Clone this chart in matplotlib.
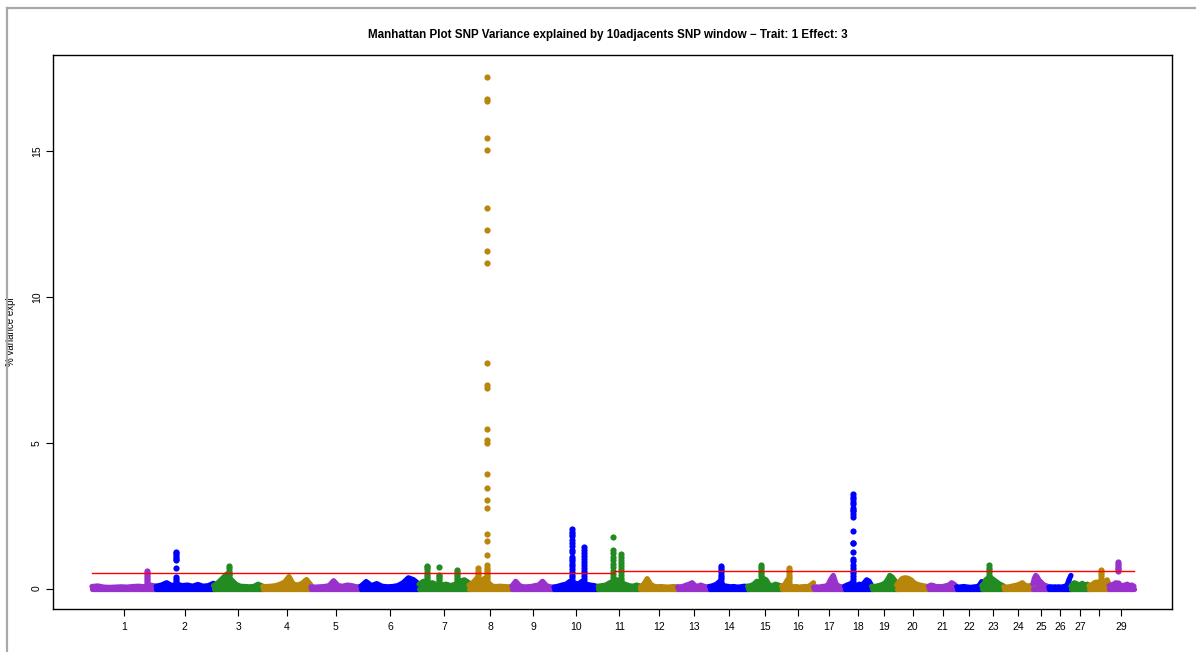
""" Manhattan plot of SNP variance explained by 10 adjacent SNP windows."""
import numpy as np
import matplotlib
matplotlib.use("Agg")
import matplotlib.pyplot as plt
from matplotlib.lines import Line2D

plt.rcParams['font.family'] = ['Liberation Sans', 'DejaVu Sans']

# chromosome names and lengths (Mb)
chrom_names = [str(i) for i in range(1, 30)]
chrom_len = [157, 140, 120, 118, 122, 142, 122, 105, 103, 108, 103, 91, 78, 93, 83,
             78, 76, 66, 61, 78, 69, 61, 54, 71, 39, 54, 44, 49, 61]
palette = ["#9932CC", "#0000FF", "#228B22", "#B8860B"]

# dense background of windows: upper envelope, 12 evenly spaced samples per chromosome
baseline = [
    [0.07, 0.09, 0.05, 0.04, 0.05, 0.06, 0.05, 0.07, 0.08, 0.06, 0.12, 0.08],
    [0.08, 0.12, 0.20, 0.10, 0.15, 0.10, 0.12, 0.08, 0.14, 0.08, 0.10, 0.18],
    [0.10, 0.20, 0.35, 0.50, 0.30, 0.15, 0.08, 0.07, 0.06, 0.07, 0.15, 0.08],
    [0.07, 0.07, 0.08, 0.10, 0.15, 0.22, 0.41, 0.15, 0.12, 0.18, 0.31, 0.12],
    [0.06, 0.05, 0.06, 0.07, 0.10, 0.27, 0.10, 0.08, 0.12, 0.10, 0.06, 0.07],
    [0.08, 0.24, 0.10, 0.17, 0.08, 0.06, 0.07, 0.10, 0.20, 0.37, 0.30, 0.15],
    [0.15, 0.25, 0.18, 0.20, 0.12, 0.12, 0.15, 0.10, 0.15, 0.25, 0.30, 0.20],
    [0.12, 0.20, 0.35, 0.25, 0.35, 0.20, 0.08, 0.07, 0.08, 0.07, 0.06, 0.07],
    [0.08, 0.25, 0.10, 0.06, 0.06, 0.07, 0.10, 0.12, 0.25, 0.10, 0.06, 0.05],
    [0.05, 0.08, 0.12, 0.15, 0.25, 0.20, 0.15, 0.25, 0.15, 0.12, 0.10, 0.06],
    [0.08, 0.10, 0.12, 0.20, 0.25, 0.30, 0.20, 0.15, 0.10, 0.08, 0.12, 0.08],
    [0.06, 0.15, 0.34, 0.15, 0.08, 0.06, 0.07, 0.06, 0.05, 0.06, 0.07, 0.05],
    [0.06, 0.06, 0.08, 0.12, 0.15, 0.20, 0.10, 0.08, 0.12, 0.08, 0.06, 0.07],
    [0.07, 0.10, 0.15, 0.25, 0.10, 0.08, 0.06, 0.07, 0.05, 0.06, 0.08, 0.07],
    [0.08, 0.10, 0.15, 0.25, 0.20, 0.35, 0.30, 0.12, 0.10, 0.15, 0.12, 0.08],
    [0.08, 0.12, 0.30, 0.10, 0.06, 0.07, 0.05, 0.06, 0.07, 0.06, 0.12, 0.20],
    [0.05, 0.06, 0.05, 0.07, 0.08, 0.10, 0.30, 0.45, 0.15, 0.08, 0.06, 0.05],
    [0.08, 0.12, 0.15, 0.20, 0.12, 0.10, 0.15, 0.12, 0.20, 0.30, 0.25, 0.10],
    [0.08, 0.07, 0.08, 0.10, 0.12, 0.15, 0.20, 0.30, 0.45, 0.40, 0.30, 0.15],
    [0.12, 0.25, 0.35, 0.37, 0.35, 0.30, 0.20, 0.15, 0.12, 0.10, 0.08, 0.06],
    [0.08, 0.12, 0.10, 0.06, 0.07, 0.06, 0.08, 0.10, 0.12, 0.20, 0.15, 0.06],
    [0.06, 0.05, 0.06, 0.07, 0.06, 0.05, 0.04, 0.05, 0.06, 0.06, 0.12, 0.24],
    [0.10, 0.15, 0.30, 0.35, 0.40, 0.35, 0.30, 0.25, 0.20, 0.15, 0.12, 0.08],
    [0.06, 0.05, 0.06, 0.08, 0.10, 0.12, 0.15, 0.20, 0.12, 0.08, 0.10, 0.12],
    [0.15, 0.35, 0.45, 0.40, 0.30, 0.25, 0.20, 0.15, 0.12, 0.10, 0.08, 0.06],
    [0.05, 0.06, 0.05, 0.06, 0.05, 0.06, 0.05, 0.06, 0.08, 0.10, 0.30, 0.45],
    [0.08, 0.15, 0.20, 0.18, 0.15, 0.12, 0.15, 0.18, 0.12, 0.10, 0.15, 0.10],
    [0.10, 0.12, 0.15, 0.20, 0.22, 0.20, 0.25, 0.30, 0.20, 0.25, 0.30, 0.15],
    [0.10, 0.12, 0.15, 0.20, 0.15, 0.12, 0.10, 0.12, 0.15, 0.10, 0.12, 0.08],
]

# windows standing out of the background (chromosome, relative position, values)
peak_chrom = [1, 2, 3, 7, 7, 7, 8, 8, 8, 10, 10, 11, 11, 14, 15, 16, 18, 23, 28, 29]
peak_frac = [0.86, 0.35, 0.31, 0.16, 0.40, 0.76, 0.22, 0.41, 0.41, 0.41, 0.68,
             0.36, 0.55, 0.29, 0.38, 0.22, 0.30, 0.32, 0.60, 0.36]
peak_values = [
    [0.62, 0.55, 0.47, 0.40, 0.33, 0.26, 0.20],
    [1.27, 1.22, 1.16, 1.10, 1.03, 0.97, 0.72, 0.40, 0.32, 0.25, 0.18],
    [0.79, 0.72, 0.62, 0.55, 0.50, 0.45],
    [0.79, 0.74, 0.66, 0.58, 0.50, 0.42, 0.35, 0.28, 0.20],
    [0.73, 0.48, 0.42, 0.36, 0.30, 0.22],
    [0.63, 0.57, 0.50, 0.43, 0.36, 0.30, 0.22],
    [0.69, 0.62, 0.55, 0.48, 0.40, 0.32, 0.25],
    [17.56, 16.80, 16.72, 15.45, 15.05, 13.06, 12.30, 11.59, 11.16, 7.74, 6.99, 6.89,
     5.49, 5.08, 4.98, 3.94, 3.45, 3.05, 2.78, 1.88, 1.62, 1.16, 0.80],
    [0.72, 0.65, 0.58, 0.50, 0.42, 0.35, 0.28, 0.20],
    [2.03, 1.94, 1.86, 1.80, 1.68, 1.58, 1.46, 1.34, 1.24, 1.10, 1.02, 0.93, 0.85,
     0.76, 0.67, 0.58, 0.48, 0.40, 0.31, 0.22],
    [1.41, 1.32, 1.22, 1.12, 1.02, 0.92, 0.82, 0.72, 0.62, 0.52, 0.42, 0.32, 0.22],
    [1.78, 1.34, 1.22, 1.10, 0.98, 0.86, 0.74, 0.62, 0.50, 0.40, 0.30, 0.20],
    [1.17, 1.08, 0.98, 0.88, 0.78, 0.68, 0.58, 0.48, 0.38, 0.28, 0.20],
    [0.79, 0.72, 0.64, 0.56, 0.48, 0.40, 0.32, 0.24],
    [0.82, 0.74, 0.66, 0.58, 0.50, 0.42, 0.34, 0.26],
    [0.71, 0.64, 0.56, 0.48, 0.40, 0.32, 0.24],
    [3.23, 3.15, 3.06, 2.96, 2.89, 2.78, 2.71, 2.65, 2.55, 2.47, 1.96, 1.58, 1.55,
     1.27, 1.00, 0.96, 0.82, 0.72, 0.62, 0.52, 0.42, 0.32, 0.22],
    [0.80, 0.72, 0.64, 0.56, 0.48, 0.40, 0.32, 0.24],
    [0.65, 0.58, 0.50, 0.42, 0.34, 0.26],
    [0.90, 0.84, 0.78, 0.72, 0.66, 0.60, 0.20, 0.15],
]

# significance line, slightly higher after the break on chromosome 11
threshold = [0.55, 0.60]
threshold_break = (11, 0.38)

title = "Manhattan Plot SNP Variance explained by 10adjacents SNP window \u2212 Trait: 1 Effect: 3"

offsets = np.concatenate([[0], np.cumsum(chrom_len)[:-1]])
total = sum(chrom_len)

fig = plt.figure(figsize=(11.96, 6.52), dpi=100)
ax = fig.add_axes([53 / 1196, 43 / 652, 1119 / 1196, 554 / 652])

for i, env in enumerate(baseline):
    col = palette[i % 4]
    x = offsets[i] + np.linspace(0, chrom_len[i], len(env))
    ax.fill_between(x, 0, env, color=col, lw=0)
    ax.plot(x, env, color=col, lw=3.8, solid_capstyle='round', solid_joinstyle='round')
    ax.plot(x, np.zeros(len(env)), color=col, lw=3.8, solid_capstyle='round')

for c, f, vals in zip(peak_chrom, peak_frac, peak_values):
    k = c - 1
    xp = offsets[k] + f * chrom_len[k]
    ax.scatter(np.full(len(vals), xp), vals, s=20, color=palette[k % 4], lw=0, zorder=3)

xb = offsets[threshold_break[0] - 1] + threshold_break[1] * chrom_len[threshold_break[0] - 1]
ax.plot([0, xb], [threshold[0], threshold[0]], color='red', lw=1, zorder=4)
ax.plot([xb, total], [threshold[1], threshold[1]], color='red', lw=1, zorder=4)

ax.set_xlim(-0.0374 * total, total * 1.0365)
ax.set_ylim(-0.70, 18.3)

centers = offsets + np.array(chrom_len) / 2
ax.set_xticks(centers)
ax.set_xticklabels([n if n != '28' else '' for n in chrom_names], fontsize=7.5)
ax.set_yticks([0, 5, 10, 15])
ax.set_yticklabels(['0', '5', '10', '15'], fontsize=7.5, rotation=90, va='center')
ax.tick_params(axis='x', length=5, width=0.8, pad=4)
ax.tick_params(axis='y', length=5, width=0.8, pad=3)
for s in ax.spines.values():
    s.set_linewidth(1.0)

ax.set_ylabel("% variance expl", fontsize=7)
ax.yaxis.set_label_coords(-0.033, 0.5)
fig.text(608 / 1196, 1 - 35 / 652, title, ha='center', va='center', fontsize=8.4, fontweight='bold')

# page frame from the source document
fig.add_artist(Line2D([7 / 1196, 7 / 1196], [0, 1 - 8 / 652], color='#A8A8A8', lw=1.6))
fig.add_artist(Line2D([7 / 1196, 1], [1 - 8 / 652, 1 - 8 / 652], color='#A8A8A8', lw=1.6))

fig.savefig("out.png", dpi=100)
